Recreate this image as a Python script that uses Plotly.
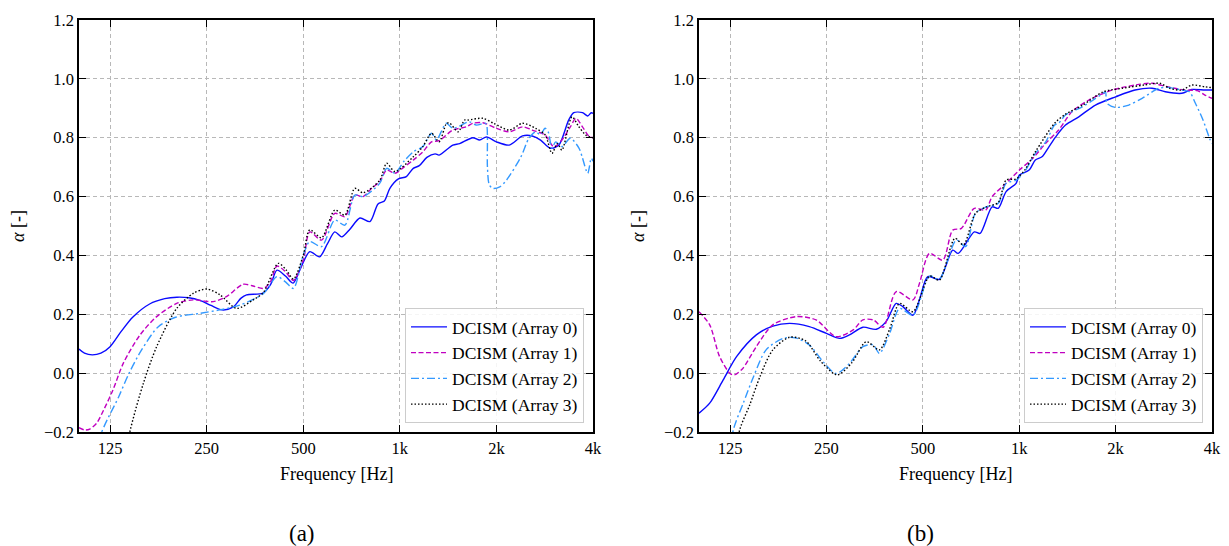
import plotly.graph_objects as go

# ---------------- data: panel (a) ----------------
a0_f = [100, 104, 110, 117, 125, 135, 147, 166, 185, 202, 220, 238, 258, 279, 302, 320, 333, 374, 395, 414, 440, 465, 490, 524, 562, 595, 627, 659, 700, 751, 807, 855, 895, 931, 990, 1048, 1101, 1150, 1214, 1288, 1326, 1463, 1536, 1688, 1773, 1863, 2000, 2193, 2412, 2586, 2746, 2945, 3130, 3359, 3485, 3709, 3851, 3950, 4000]
a0_v = [0.082, 0.068, 0.062, 0.068, 0.09, 0.14, 0.19, 0.235, 0.253, 0.258, 0.256, 0.247, 0.23, 0.215, 0.224, 0.255, 0.266, 0.272, 0.30, 0.35, 0.33, 0.306, 0.355, 0.413, 0.395, 0.44, 0.48, 0.463, 0.49, 0.527, 0.515, 0.575, 0.585, 0.628, 0.66, 0.668, 0.696, 0.705, 0.733, 0.745, 0.741, 0.775, 0.78, 0.80, 0.792, 0.803, 0.786, 0.775, 0.806, 0.806, 0.792, 0.764, 0.775, 0.86, 0.885, 0.885, 0.874, 0.885, 0.883]

a1_f = [100, 104, 108, 113.5, 120, 127.6, 137.5, 155, 174.6, 201.7, 227, 262, 288, 325, 349, 376, 395, 414, 440, 466, 500, 524, 570, 627, 674, 724, 768, 820, 865, 910, 965, 1030, 1101, 1180, 1255, 1326, 1463, 1611, 1688, 1813, 2000, 2193, 2412, 2586, 2836, 3022, 3200, 3400, 3540, 3709, 3900, 4000]
a1_v = [-0.185, -0.193, -0.19, -0.17, -0.12, -0.057, 0.034, 0.13, 0.192, 0.237, 0.249, 0.243, 0.26, 0.302, 0.296, 0.288, 0.31, 0.364, 0.345, 0.315, 0.384, 0.48, 0.452, 0.543, 0.532, 0.605, 0.60, 0.63, 0.65, 0.69, 0.679, 0.70, 0.724, 0.752, 0.786, 0.79, 0.826, 0.837, 0.849, 0.851, 0.832, 0.82, 0.837, 0.826, 0.809, 0.769, 0.792, 0.837, 0.866, 0.837, 0.803, 0.80]

a2_f = [108, 116, 133, 143.3, 156.7, 176.7, 200, 238, 275, 317, 376, 414, 440, 466, 500, 524, 570, 627, 674, 724, 768, 865, 910, 965, 1030, 1101, 1180, 1255, 1300, 1395, 1463, 1647, 1730, 1840, 1863, 1875, 1900, 1947, 2049, 2150, 2385, 2525, 2648, 2740, 2836, 2900, 2980, 3060, 3200, 3400, 3620, 3700, 3851, 3950, 4000]
a2_v = [-0.45, -0.22, -0.08, 0.0, 0.079, 0.158, 0.19, 0.203, 0.215, 0.231, 0.271, 0.328, 0.31, 0.288, 0.40, 0.447, 0.43, 0.52, 0.503, 0.605, 0.60, 0.645, 0.696, 0.68, 0.72, 0.752, 0.77, 0.815, 0.792, 0.849, 0.832, 0.854, 0.843, 0.849, 0.845, 0.70, 0.64, 0.628, 0.633, 0.656, 0.735, 0.798, 0.82, 0.81, 0.832, 0.82, 0.764, 0.786, 0.77, 0.798, 0.764, 0.735, 0.679, 0.73, 0.72]

a3_f = [125, 144, 158.7, 174.6, 201.7, 227, 250, 275, 310, 349, 376, 418, 443, 466, 500, 524, 570, 627, 674, 724, 768, 865, 910, 965, 1101, 1180, 1255, 1326, 1399, 1432, 1520, 1590, 1630, 1813, 1960, 2193, 2412, 2648, 2836, 2980, 3100, 3200, 3440, 3600, 3800, 4000]
a3_v = [-0.55, -0.2, -0.035, 0.09, 0.22, 0.271, 0.286, 0.266, 0.22, 0.249, 0.275, 0.373, 0.35, 0.32, 0.40, 0.487, 0.46, 0.554, 0.537, 0.628, 0.613, 0.655, 0.713, 0.685, 0.735, 0.77, 0.815, 0.786, 0.849, 0.849, 0.82, 0.86, 0.86, 0.866, 0.849, 0.826, 0.849, 0.832, 0.81, 0.747, 0.78, 0.758, 0.871, 0.84, 0.809, 0.80]

# ---------------- data: panel (b) ----------------
b0_f = [100, 108, 119, 131, 151, 170, 192, 221, 250, 275, 295, 325, 358, 384, 413, 433, 466, 488, 518, 563, 620, 645, 724, 755, 823, 860, 910, 978, 1001, 1074, 1123, 1178, 1238, 1300, 1395, 1535, 1730, 2000, 2300, 2600, 2860, 3220, 3460, 3800, 4000]
b0_v = [-0.136, -0.102, -0.023, 0.056, 0.13, 0.16, 0.169, 0.158, 0.135, 0.118, 0.13, 0.156, 0.149, 0.175, 0.237, 0.226, 0.197, 0.249, 0.328, 0.319, 0.418, 0.407, 0.48, 0.475, 0.565, 0.56, 0.617, 0.645, 0.673, 0.69, 0.724, 0.735, 0.769, 0.803, 0.843, 0.871, 0.911, 0.939, 0.962, 0.968, 0.956, 0.951, 0.964, 0.962, 0.962]

b1_f = [100, 108, 116, 125, 129, 137, 151, 170, 201, 232, 268, 303, 325, 350, 376, 413, 466, 488, 525, 577, 620, 660, 724, 786, 823, 910, 1001, 1103, 1210, 1328, 1460, 1650, 1950, 2300, 2600, 2900, 3300, 3600, 3800, 4000]
b1_v = [0.209, 0.164, 0.056, -0.001, -0.006, 0.016, 0.09, 0.164, 0.192, 0.181, 0.124, 0.147, 0.181, 0.181, 0.156, 0.277, 0.249, 0.305, 0.407, 0.384, 0.486, 0.492, 0.56, 0.554, 0.60, 0.645, 0.69, 0.73, 0.781, 0.826, 0.888, 0.928, 0.962, 0.979, 0.985, 0.973, 0.962, 0.96, 0.945, 0.934]

b2_f = [120, 128, 137.5, 148, 162, 183, 200, 221, 244, 268, 295, 325, 350, 366, 394, 423, 466, 525, 563, 636, 680, 730, 790, 860, 910, 978, 1040, 1123, 1210, 1290, 1330, 1395, 1575, 1700, 1830, 1860, 1880, 2000, 2200, 2420, 2730, 2900, 3220, 3400, 3550, 3750, 3930, 4000]
b2_v = [-0.40, -0.193, -0.102, -0.012, 0.079, 0.118, 0.12, 0.096, 0.039, -0.001, 0.033, 0.09, 0.096, 0.067, 0.135, 0.22, 0.197, 0.33, 0.319, 0.452, 0.43, 0.543, 0.565, 0.577, 0.645, 0.656, 0.685, 0.747, 0.786, 0.843, 0.85, 0.877, 0.905, 0.928, 0.951, 0.956, 0.917, 0.903, 0.911, 0.934, 0.968, 0.971, 0.962, 0.956, 0.917, 0.86, 0.798, 0.78]

b3_f = [125, 134, 144, 155, 170, 192, 215, 240, 270, 300, 333, 366, 394, 423, 466, 525, 563, 630, 670, 730, 790, 860, 910, 978, 1040, 1123, 1290, 1395, 1575, 1830, 2100, 2450, 2750, 2950, 3220, 3460, 3800, 4000]
b3_v = [-0.40, -0.193, -0.108, -0.012, 0.079, 0.122, 0.11, 0.04, -0.006, 0.035, 0.107, 0.079, 0.15, 0.237, 0.209, 0.33, 0.316, 0.458, 0.436, 0.543, 0.565, 0.58, 0.656, 0.66, 0.69, 0.752, 0.849, 0.88, 0.91, 0.956, 0.968, 0.979, 0.985, 0.968, 0.962, 0.979, 0.973, 0.97]

names = ["DCISM (Array 0)", "DCISM (Array 1)", "DCISM (Array 2)", "DCISM (Array 3)"]
colors = ["#0A0AFF", "#C000C0", "#3399FF", "#000000"]
dashes = ["solid", "5px,2.5px", "8px,3px,2px,3px", "1.5px,2px"]

x_ticks = [125, 250, 500, 1000, 2000, 4000]
x_ticktext = ["125", "250", "500", "1k", "2k", "4k"]

FONT = "Liberation Serif, serif"

fig = go.Figure()
panels = [
    ([(a0_f, a0_v), (a1_f, a1_v), (a2_f, a2_v), (a3_f, a3_v)], "x", "y", "legend"),
    ([(b0_f, b0_v), (b1_f, b1_v), (b2_f, b2_v), (b3_f, b3_v)], "x2", "y2", "legend2"),
]
for series, xa, ya, lg in panels:
    for i, (f, v) in enumerate(series):
        fig.add_trace(go.Scatter(
            x=f, y=v, mode="lines", name=names[i], xaxis=xa, yaxis=ya, legend=lg,
            line=dict(color=colors[i], dash=dashes[i], width=1.4, shape="spline", smoothing=0.8),
        ))

W, H = 1229, 546
xdom1 = [79 / W, 593 / W]
xdom2 = [699 / W, 1212 / W]
ydom = [1 - 432 / H, 1 - 20 / H]

def xax(domain, anchor):
    return dict(domain=domain, anchor=anchor, type="log", range=[2, 3.60206], automargin=False,
                tickvals=x_ticks, ticktext=x_ticktext, ticks="inside", ticklen=7, tickwidth=1.3,
                tickcolor="black", showline=True, linecolor="black", linewidth=1.5, mirror="allticks",
                showgrid=True, gridcolor="#b8b8b8", griddash="4px,3px", gridwidth=1,
                tickfont=dict(family=FONT, size=16.5, color="black"), zeroline=False)

def yax(anchor):
    return dict(domain=ydom, anchor=anchor, range=[-0.2, 1.2], dtick=0.2, tick0=0, tickformat=".1f",
                automargin=False,
                ticks="inside", ticklen=7, tickwidth=1.3, tickcolor="black", showline=True,
                linecolor="black", linewidth=1.5, mirror="allticks",
                showgrid=True, gridcolor="#b8b8b8", griddash="4px,3px", gridwidth=1,
                tickfont=dict(family=FONT, size=16.5, color="black"), zeroline=False)

legend_style = dict(font=dict(family=FONT, size=17.5, color="black"), bgcolor="rgba(255,255,255,0.85)",
                    bordercolor="#cccccc", borderwidth=1, xref="paper", yref="paper",
                    xanchor="right", yanchor="bottom", itemwidth=36)

fig.update_layout(
    width=W, height=H, margin=dict(l=0, r=0, t=0, b=0, autoexpand=False),
    paper_bgcolor="white", plot_bgcolor="white", showlegend=True,
    xaxis=xax(xdom1, "y"), yaxis=yax("x"),
    xaxis2=xax(xdom2, "y2"), yaxis2=yax("x2"),
    legend=dict(x=584 / W, y=1 - 423 / H, **legend_style),
    legend2=dict(x=1203 / W, y=1 - 423 / H, **legend_style),
)

ann = []
for cx, cy_lab in [(336, 18), (955, 638)]:
    ann.append(dict(x=cx / W, y=1 - 474 / H, xref="paper", yref="paper", text="Frequency [Hz]",
                    showarrow=False, font=dict(family=FONT, size=18, color="black"),
                    xanchor="center", yanchor="middle"))
    ann.append(dict(x=cy_lab / W, y=1 - 226 / H, xref="paper", yref="paper", text="<i>α</i> [-]",
                    textangle=-90, showarrow=False, font=dict(family=FONT, size=18, color="black"),
                    xanchor="center", yanchor="middle"))
for cx, cap in [(302, "(a)"), (921, "(b)")]:
    ann.append(dict(x=cx / W, y=1 - 533 / H, xref="paper", yref="paper", text=cap,
                    showarrow=False, font=dict(family=FONT, size=23, color="black"),
                    xanchor="center", yanchor="middle"))
fig.update_layout(annotations=ann)

fig.write_html("out.html")
